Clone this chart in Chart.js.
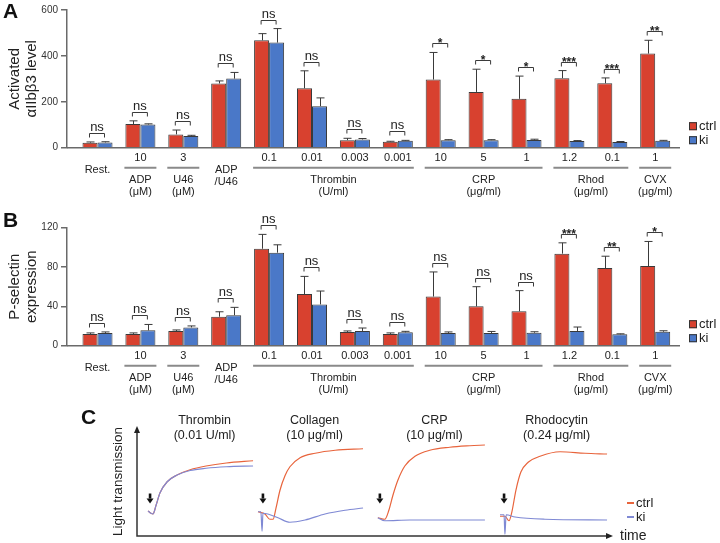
<!DOCTYPE html>
<html>
<head>
<meta charset="utf-8">
<script src="https://cdn.jsdelivr.net/npm/chart.js@4.4.0/dist/chart.umd.min.js"></script>
<style>
  html, body { margin: 0; padding: 0; background: #fff; }
  #wrap { position: relative; width: 720px; height: 543px; overflow: hidden; }
  canvas { position: absolute; left: 0; }
</style>
</head>
<body>
<div id="wrap">
  <canvas id="chartA" width="720" height="205" style="top:0"></canvas>
  <canvas id="chartB" width="720" height="195" style="top:205px"></canvas>
  <canvas id="chartC" width="720" height="143" style="top:400px"></canvas>
</div>
<script>
// categories (x positions 0..13) and the labels under them
const categories = ['Rest.', 'ADP 10', 'U46 3', 'ADP/U46', 'Thr 0.1', 'Thr 0.01', 'Thr 0.003', 'Thr 0.001',
  'CRP 10', 'CRP 5', 'CRP 1', 'Rhod 1.2', 'Rhod 0.1', 'CVX 1'];
const doseLabels = ['', '10', '3', '', '0.1', '0.01', '0.003', '0.001', '10', '5', '1', '1.2', '0.1', '1'];
const groupNames = [['Rest.'], ['ADP', '(μM)'], ['U46', '(μM)'], ['ADP', '/U46'], ['Thrombin', '(U/ml)'],
  ['CRP', '(μg/ml)'], ['Rhod', '(μg/ml)'], ['CVX', '(μg/ml)']];
const groupStart = [0, 1, 2, 3, 4, 8, 11, 13];
const groupEnd = [0, 1, 2, 3, 7, 10, 12, 13];

// Panel A - activated aIIbb3
const ctrlA = [22, 103, 58, 280, 468, 259, 33, 26, 297, 243, 213, 303, 281, 410];
const ctrlAErr = [3, 14, 19, 11, 29, 76, 8, 2, 118, 99, 99, 33, 23, 58];
const kiA = [23, 101, 51, 301, 458, 181, 36, 30, 33, 33, 34, 29, 25, 30];
const kiAErr = [3, 3, 3, 27, 61, 36, 4, 2, 2, 2, 3, 2, 2, 2];
const sigA = ['ns', 'ns', 'ns', 'ns', 'ns', 'ns', 'ns', 'ns', '*', '*', '*', '***', '***', '**'];

// Panel B - P-selectin
const ctrlB = [12, 12, 15, 29.5, 98.6, 52.5, 14, 12, 50, 40, 35, 93.6, 79, 81];
const ctrlBErr = [1, 1, 1, 5, 14.6, 18, 1, 1, 25, 20, 21, 11, 12, 25];
const kiB = [13, 15.6, 18.6, 31, 94.6, 42, 15, 13.6, 13, 13, 13.2, 15, 11.6, 14.2];
const kiBErr = [1, 6, 1.5, 8, 8, 13.6, 3, 1, 1, 1.5, 1, 4, 0.5, 1];
const sigB = ['ns', 'ns', 'ns', 'ns', 'ns', 'ns', 'ns', 'ns', 'ns', 'ns', 'ns', '***', '**', '*'];

// Panel C - aggregation traces (time in s, light transmission in %)
const traceNames = [['Thrombin', '(0.01 U/ml)'], ['Collagen', '(10 μg/ml)'], ['CRP', '(10 μg/ml)'], ['Rhodocytin', '(0.24 μg/ml)']];
const traceStart = [38, 417, 830, 1251];
const addTime = [7, 17, 7, 14];
const arrowLevel = 22;

const thrT = [0, 10, 17, 28, 41, 66, 100, 145, 200, 270, 362];
const thrCtrl = [12, 9, 8, 20, 36, 51, 60, 67, 72, 76, 79];
const thrKi = [12, 9, 8, 20, 36, 51, 60, 66, 69, 71, 72];

const colCtrlT = [0, 24, 41, 52, 62, 76, 93, 110, 145, 197, 266, 362];
const colCtrl = [11, 8, 1, 1, 16, 40, 59, 71, 83, 89, 93, 95];
const colKiT = [0, 10, 14, 17, 34, 69, 110, 162, 231, 300, 362];
const colKi = [11, 11, -15, 9, 8, 3, -3, 0, 8, 13, 16];

const crpCtrlT = [0, 24, 38, 52, 69, 93, 128, 179, 248, 317, 369];
const crpCtrl = [3, 1, 13, 33, 53, 72, 85, 93, 97, 99, 100];
const crpKiT = [0, 24, 110, 214, 369];
const crpKi = [3, -1, 0, 0, 0];

const rhoCtrlT = [0, 17, 31, 41, 55, 72, 97, 138, 207, 293, 369];
const rhoCtrl = [5, 5, -1, 11, 40, 64, 77, 85, 91, 89, 88];
const rhoKiT = [0, 14, 17, 21, 52, 155, 369];
const rhoKi = [7, 7, -19, 7, 4, 1, 0];

const RED = '#d8412f';
const BLUE = '#4a78c8';
const FONT = "'Liberation Sans', Arial, Helvetica, sans-serif";
Chart.defaults.font.family = FONT;
Chart.defaults.color = '#222';

function pts(vals) { return vals.map((v, i) => ({ x: i, y: v })); }

// error bars, brackets, category labels, legend and panel letter
const barDeco = {
  id: 'barDeco',
  afterDatasetsDraw(chart, args, opts) {
    const ctx = chart.ctx;
    const xs = chart.scales.x, ys = chart.scales.y;
    const area = chart.chartArea;
    const metas = [chart.getDatasetMeta(0), chart.getDatasetMeta(1)];
    const vals = [chart.data.datasets[0].data, chart.data.datasets[1].data];
    ctx.save();

    // x axis line
    ctx.strokeStyle = '#6a6a6a';
    ctx.lineWidth = 1.5;
    ctx.beginPath();
    ctx.moveTo(area.left, area.bottom);
    ctx.lineTo(area.right, area.bottom);
    ctx.stroke();

    // error bars (upper only)
    ctx.strokeStyle = '#3a3a3a';
    ctx.lineWidth = 1;
    metas.forEach((meta, d) => {
      meta.data.forEach((bar, i) => {
        const top = ys.getPixelForValue(vals[d][i].y + opts.errors[d][i]);
        const bx = Math.round(bar.x) + 0.5;
        ctx.beginPath();
        ctx.moveTo(bx, bar.y);
        ctx.lineTo(bx, top);
        ctx.moveTo(bx - 4, top);
        ctx.lineTo(bx + 4, top);
        ctx.stroke();
      });
    });

    // significance brackets
    ctx.textAlign = 'center';
    ctx.textBaseline = 'alphabetic';
    ctx.fillStyle = '#222';
    metas[0].data.forEach((bar, i) => {
      const b2 = metas[1].data[i];
      const hi = Math.min(
        ys.getPixelForValue(vals[0][i].y + opts.errors[0][i]),
        ys.getPixelForValue(vals[1][i].y + opts.errors[1][i]));
      const by = Math.round(hi - 9) + 0.5;
      const cx = (bar.x + b2.x) / 2 - 0.5;
      ctx.beginPath();
      ctx.moveTo(cx - 7.5, by + 4);
      ctx.lineTo(cx - 7.5, by);
      ctx.lineTo(cx + 7.5, by);
      ctx.lineTo(cx + 7.5, by + 4);
      ctx.stroke();
      const s = opts.sig[i];
      if (s === 'ns') {
        ctx.font = '13px ' + FONT;
        ctx.fillText('ns', cx, by - 3);
      } else {
        ctx.font = 'bold 12px ' + FONT;
        ctx.fillText(s, cx, by + 3);
      }
    });

    // dose labels and group labels
    ctx.textBaseline = 'middle';
    ctx.font = '11px ' + FONT;
    doseLabels.forEach((d, i) => {
      if (d) ctx.fillText(d, xs.getPixelForValue(i), area.bottom + 10.5);
    });
    groupNames.forEach((lines, g) => {
      const x0 = xs.getPixelForValue(groupStart[g]) - 16;
      const x1 = xs.getPixelForValue(groupEnd[g]) + 16;
      const xc = (x0 + x1) / 2;
      if (doseLabels[groupStart[g]]) {
        ctx.strokeStyle = '#8a8a8a';
        ctx.lineWidth = 2;
        ctx.beginPath();
        ctx.moveTo(x0, area.bottom + 20);
        ctx.lineTo(x1, area.bottom + 20);
        ctx.stroke();
        lines.forEach((t, k) => ctx.fillText(t, xc, area.bottom + 32 + k * 12.5));
      } else {
        lines.forEach((t, k) => ctx.fillText(t, xs.getPixelForValue(groupStart[g]), area.bottom + 22.5 + k * 12));
      }
    });

    // legend
    ctx.font = '13px ' + FONT;
    ctx.textAlign = 'left';
    chart.data.datasets.forEach((ds, d) => {
      const ly = area.bottom - 21.5 + d * 14;
      ctx.fillStyle = ds.backgroundColor;
      ctx.fillRect(area.right + 9, ly - 4, 8, 8);
      ctx.strokeStyle = '#333';
      ctx.lineWidth = 1;
      ctx.strokeRect(area.right + 9.5, ly - 3.5, 7, 7);
      ctx.fillStyle = '#222';
      ctx.fillText(ds.label, area.right + 19, ly);
    });

    // panel letter
    ctx.font = 'bold 21px ' + FONT;
    ctx.fillStyle = '#111';
    ctx.fillText(opts.letter, 3, opts.letterY);
    ctx.restore();
  }
};

function makeBarChart(id, ctrl, ki, errs, sig, yMax, step, title, pad, letter, letterY) {
  return new Chart(document.getElementById(id).getContext('2d'), {
    type: 'bar',
    data: {
      datasets: [
        { label: 'ctrl', data: pts(ctrl), backgroundColor: RED, borderColor: '#3a3a3a', borderWidth: 1 },
        { label: 'ki', data: pts(ki), backgroundColor: BLUE, borderColor: '#3a3a3a', borderWidth: 1 }
      ]
    },
    options: {
      responsive: false,
      animation: false,
      categoryPercentage: 0.7,
      barPercentage: 1.0,
      layout: { padding: pad },
      scales: {
        x: { type: 'linear', min: -0.711, max: 13.578, offset: false, display: false },
        y: {
          min: 0, max: yMax,
          afterFit(scale) { scale.width = 67; },
          ticks: { stepSize: step, font: { size: 10 }, color: '#333', padding: 3 },
          grid: { drawOnChartArea: false, drawTicks: true, tickLength: 6, color: '#6a6a6a', lineWidth: 1.5 },
          border: { display: true, color: '#6a6a6a', width: 1.5 },
          title: { display: true, text: title, font: { size: 15, lineHeight: 1.1 }, color: '#222', padding: { top: 7, bottom: 0 } }
        }
      },
      plugins: {
        legend: { display: false },
        tooltip: { enabled: false },
        barDeco: { errors: errs, sig: sig, letter: letter, letterY: letterY }
      }
    },
    plugins: [barDeco]
  });
}

makeBarChart('chartA', ctrlA, kiA, [ctrlAErr, kiAErr], sigA, 600, 200,
  ['Activated', 'αIIbβ3 level'], { top: 10, bottom: 57.3, right: 40, left: 0 }, 'A', 12);
makeBarChart('chartB', ctrlB, kiB, [ctrlBErr, kiBErr], sigB, 120, 40,
  ['P-selectin', 'expression'], { top: 22.7, bottom: 54.3, right: 40, left: 0 }, 'B', 16);

// Panel C
function series(start, ts, ys) { return ts.map((t, i) => ({ x: start + t, y: ys[i] })); }
const CTRL_LINE = '#e8643c';
const KI_LINE = '#7f89d4';
const traceSets = [
  [thrT, thrKi, thrT, thrCtrl],
  [colKiT, colKi, colCtrlT, colCtrl],
  [crpKiT, crpKi, crpCtrlT, crpCtrl],
  [rhoKiT, rhoKi, rhoCtrlT, rhoCtrl]
];
const cDatasets = [];
traceSets.forEach((s, k) => {
  cDatasets.push({ label: 'ki', data: series(traceStart[k], s[0], s[1]), borderColor: KI_LINE });
  cDatasets.push({ label: 'ctrl', data: series(traceStart[k], s[2], s[3]), borderColor: CTRL_LINE });
});

const traceDeco = {
  id: 'traceDeco',
  afterDraw(chart) {
    const ctx = chart.ctx;
    const xs = chart.scales.x, ys = chart.scales.y;
    const area = chart.chartArea;
    ctx.save();
    ctx.strokeStyle = '#333';
    ctx.fillStyle = '#222';
    ctx.lineWidth = 1.5;
    // axes with arrow heads
    ctx.beginPath();
    ctx.moveTo(area.left, area.top + 3);
    ctx.lineTo(area.left, area.bottom);
    ctx.lineTo(area.right - 4, area.bottom);
    ctx.stroke();
    ctx.beginPath();
    ctx.moveTo(area.left, area.top - 1);
    ctx.lineTo(area.left - 3, area.top + 6);
    ctx.lineTo(area.left + 3, area.top + 6);
    ctx.closePath();
    ctx.fill();
    ctx.beginPath();
    ctx.moveTo(area.right + 1, area.bottom);
    ctx.lineTo(area.right - 6, area.bottom - 3);
    ctx.lineTo(area.right - 6, area.bottom + 3);
    ctx.closePath();
    ctx.fill();

    // agonist arrows and titles
    ctx.textAlign = 'center';
    ctx.textBaseline = 'middle';
    ctx.font = '12.5px ' + FONT;
    traceNames.forEach((lines, k) => {
      const ax = xs.getPixelForValue(traceStart[k] + addTime[k]);
      const ay = ys.getPixelForValue(arrowLevel);
      ctx.fillStyle = '#111';
      ctx.fillRect(ax - 1.3, ay - 10, 2.6, 5);
      ctx.beginPath();
      ctx.moveTo(ax - 3.5, ay - 5);
      ctx.lineTo(ax + 3.5, ay - 5);
      ctx.lineTo(ax, ay);
      ctx.closePath();
      ctx.fill();
      ctx.fillStyle = '#222';
      const tx = xs.getPixelForValue(traceStart[k] + 195);
      lines.forEach((t, j) => ctx.fillText(t, tx, 21 + j * 14.5));
    });

    // axis labels
    ctx.font = '14px ' + FONT;
    ctx.textAlign = 'left';
    ctx.fillText('time', area.right + 8, area.bottom);
    ctx.save();
    ctx.translate(118, (area.top + area.bottom) / 2);
    ctx.rotate(-Math.PI / 2);
    ctx.textAlign = 'center';
    ctx.font = '13.5px ' + FONT;
    ctx.fillText('Light transmission', 0, 0);
    ctx.restore();

    // legend
    ctx.font = '13px ' + FONT;
    [['ctrl', CTRL_LINE], ['ki', KI_LINE]].forEach((e, j) => {
      const ly = 103 + j * 14;
      ctx.strokeStyle = e[1];
      ctx.lineWidth = 2;
      ctx.beginPath();
      ctx.moveTo(area.right + 15, ly);
      ctx.lineTo(area.right + 22, ly);
      ctx.stroke();
      ctx.fillStyle = '#222';
      ctx.fillText(e[0], area.right + 24, ly);
    });

    ctx.font = 'bold 21px ' + FONT;
    ctx.fillStyle = '#111';
    ctx.fillText('C', 81, 18);
    ctx.restore();
  }
};

new Chart(document.getElementById('chartC').getContext('2d'), {
  type: 'line',
  data: { datasets: cDatasets },
  options: {
    responsive: false,
    animation: false,
    layout: { padding: { left: 137, right: 108, top: 27, bottom: 7 } },
    elements: { point: { radius: 0 }, line: { borderWidth: 1.2, cubicInterpolationMode: 'monotone' } },
    scales: {
      x: { type: 'linear', min: 0, max: 1637, display: false },
      y: { min: -21.3, max: 124, display: false }
    },
    plugins: { legend: { display: false }, tooltip: { enabled: false } }
  },
  plugins: [traceDeco]
});
</script>
</body>
</html>
